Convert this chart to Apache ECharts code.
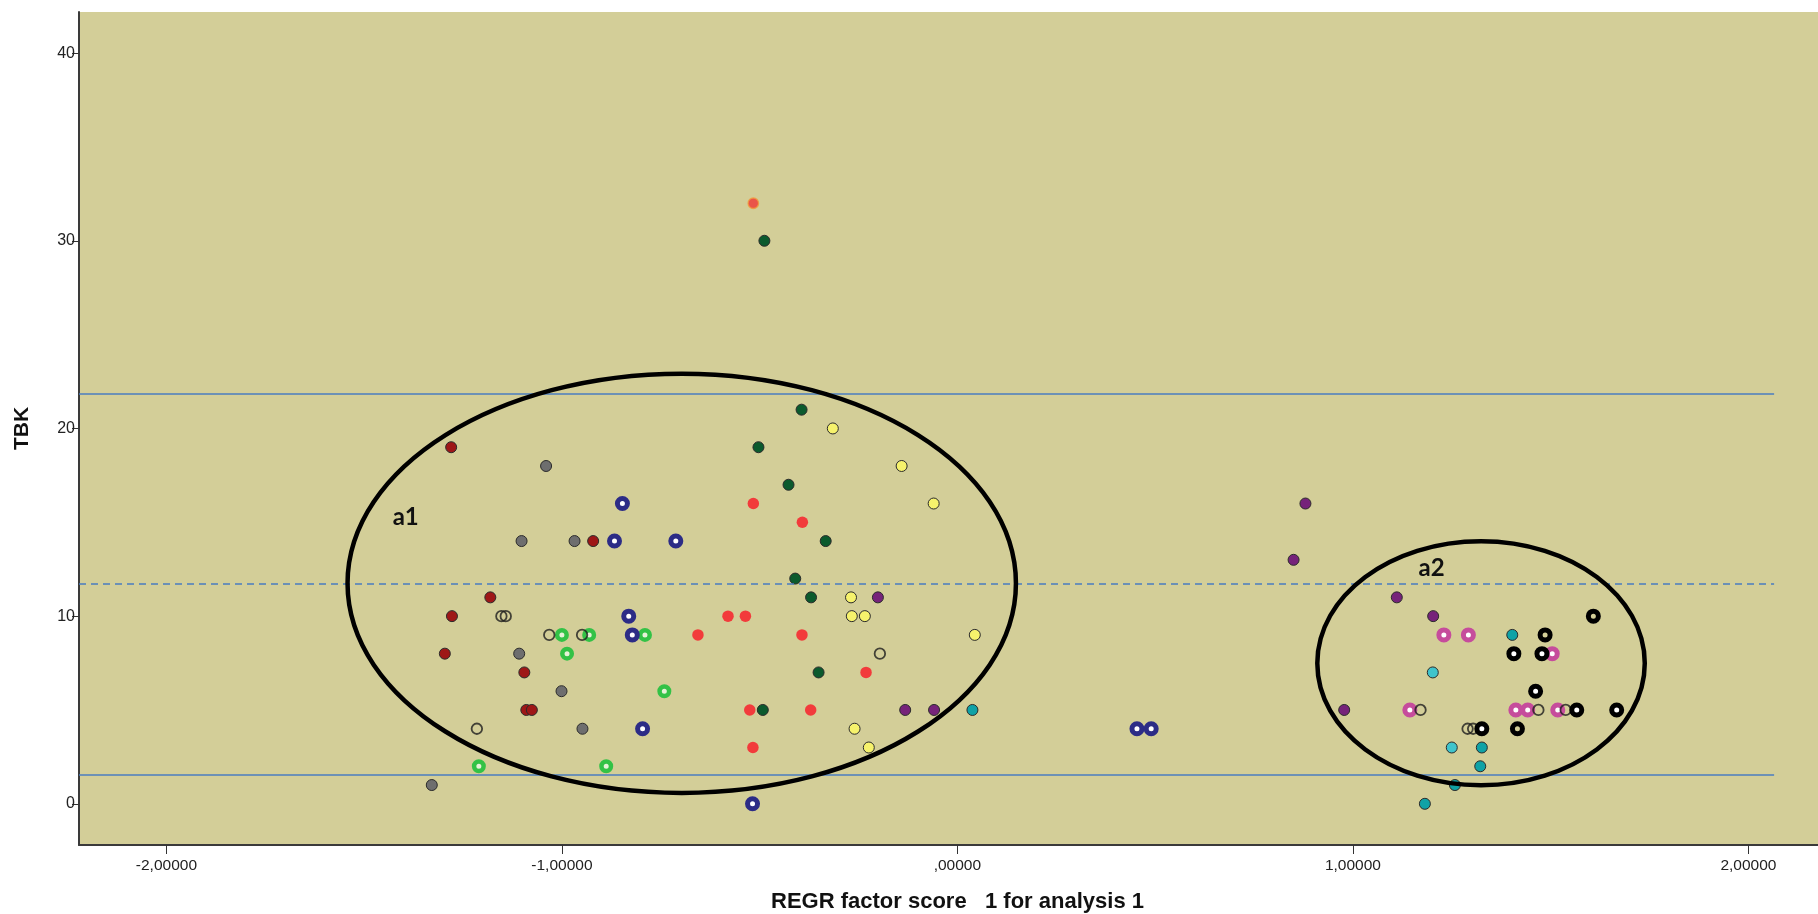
<!DOCTYPE html>
<html>
<head>
<meta charset="utf-8">
<script src="https://cdn.jsdelivr.net/npm/echarts@6/dist/echarts.min.js"></script>
<style>
html,body{margin:0;padding:0;background:#fff;}
#chart{width:1818px;height:914px;}
</style>
</head>
<body>
<div id="chart"></div>
<script>
// ---- axis extents / ticks ----
var X_MIN = -2.221, X_MAX = 2.176;
var Y_MIN = -2.195, Y_MAX = 42.19;
var xTicks = [-2, -1, 0, 1, 2];
var yTicks = [0, 10, 20, 30, 40];
var xTitle = 'REGR factor score   1 for analysis 1';
var yTitle = 'TBK';

// ---- reference lines ----
var refLineValues = [21.83, 1.55];
var refDashValue = 11.75;
var refLineEndX = 2.065;

// ---- ellipses (annotations) ----
var ellipseCx = [-0.697, 1.324];
var ellipseCy = [11.75, 7.49];
var ellipseRx = [0.845, 0.414];
var ellipseRy = [11.17, 6.50];
var ellipseLabel = ['a1', 'a2'];
var ellipseLabelX = [-1.395, 1.199];
var ellipseLabelY = [15.28, 12.56];

// ---- point groups [x, TBK] ----
var darkRed = [[-1.280,19],[-0.921,14],[-1.181,11],[-1.278,10],[-1.296,8],[-1.095,7],[-1.090,5],[-1.076,5]];
var grayPts = [[-1.040,18],[-1.102,14],[-0.968,14],[-1.108,8],[-1.001,6],[-0.948,4],[-1.329,1]];
var greenRing = [[-1.000,9],[-0.931,9],[-0.790,9],[-0.987,8],[-0.741,6],[-1.210,2],[-0.888,2]];
var navyRing = [[-0.847,16],[-0.867,14],[-0.712,14],[-0.831,10],[-0.822,9],[-0.796,4],[-0.518,0],[0.454,4],[0.490,4]];
var redPts = [[-0.516,16],[-0.392,15],[-0.580,10],[-0.536,10],[-0.656,9],[-0.393,9],[-0.231,7],[-0.525,5],[-0.371,5],[-0.517,3]];
var orangeRed = [[-0.516,32]];
var darkGreen = [[-0.488,30],[-0.394,21],[-0.503,19],[-0.427,17],[-0.333,14],[-0.410,12],[-0.370,11],[-0.351,7],[-0.492,5]];
var yellowPts = [[-0.315,20],[-0.141,18],[-0.060,16],[-0.269,11],[-0.267,10],[-0.234,10],[0.044,9],[-0.260,4],[-0.224,3]];
var purplePts = [[-0.201,11],[-0.132,5],[-0.059,5],[0.880,16],[0.850,13],[1.111,11],[1.203,10],[0.978,5]];
var tealPts = [[0.038,5],[1.403,9],[1.326,3],[1.322,2],[1.258,1],[1.182,0]];
var lightCyan = [[1.202,7],[1.250,3]];
var pinkRing = [[1.230,9],[1.292,9],[1.504,8],[1.144,5],[1.412,5],[1.442,5],[1.518,5]];
var hollowPts = [[-1.153,10],[-1.142,10],[-1.032,9],[-0.949,9],[-1.215,4],[-0.196,8],[1.171,5],[1.290,4],[1.304,4],[1.469,5],[1.538,5]];
var blackRingWhite = [[1.407,8],[1.478,8],[1.462,6],[1.566,5],[1.667,5],[1.326,4]];
var blackRingOpen = [[1.608,10],[1.486,9],[1.416,4]];

var FONT = '"Liberation Sans", Arial, sans-serif';

function filled(name, data, color, border, size){
  return {type:'scatter', name:name, data:data, symbol:'circle', symbolSize:size||11,
    itemStyle:{color:color, borderColor:border||'#2b2b2b', borderWidth:border==='none'?0:1, opacity:1},
    emphasis:{disabled:true}, z:3};
}
function ring(name, data, color, inner, size, bw){
  return {type:'scatter', name:name, data:data, symbol:'circle', symbolSize:size||10,
    itemStyle:{color:inner, borderColor:color, borderWidth:bw||5, opacity:1},
    emphasis:{disabled:true}, z:3};
}

var ellipseData = ellipseCx.map(function(c,i){
  return [c, ellipseCy[i], ellipseRx[i], ellipseRy[i], ellipseLabelX[i], ellipseLabelY[i], i];
});

var markData = refLineValues.map(function(v){
  return [{coord:[X_MIN, v]}, {coord:[refLineEndX, v]}];
});
markData.push([{coord:[X_MIN, refDashValue], lineStyle:{type:[7,5]}}, {coord:[refLineEndX, refDashValue]}]);

var chart = echarts.init(document.getElementById('chart'), null, {renderer:'canvas'});
chart.setOption({
  animation:false,
  backgroundColor:'#ffffff',
  grid:{left:79, right:0, top:12, bottom:69, show:true, backgroundColor:'#d3ce98', borderWidth:0,
    containLabel:false, outerBoundsMode:'none'},
  xAxis:{type:'value', min:X_MIN, max:X_MAX,
    name:xTitle, nameLocation:'middle', nameGap:46,
    nameTextStyle:{fontFamily:FONT, fontWeight:'bold', fontSize:22, color:'#111', padding:[0,0,0,18]},
    axisLine:{show:true, onZero:false, lineStyle:{color:'#3a3a3a', width:2}},
    axisTick:{show:true, customValues:xTicks, length:9, lineStyle:{color:'#333', width:1}},
    axisLabel:{customValues:xTicks, margin:13, fontFamily:FONT, fontSize:15.5, color:'#222',
      formatter:function(v){ var a=Math.abs(v); return (v<0?'-':'') + (a>=1? a.toFixed(0):'') + ',00000'; }},
    splitLine:{show:false}},
  yAxis:{type:'value', min:Y_MIN, max:Y_MAX,
    name:yTitle, nameLocation:'middle', nameGap:46, nameRotate:90,
    nameTextStyle:{fontFamily:FONT, fontWeight:'bold', fontSize:21, color:'#111'},
    axisLine:{show:true, onZero:false, lineStyle:{color:'#3a3a3a', width:2}},
    axisTick:{show:true, customValues:yTicks, length:7, lineStyle:{color:'#333', width:1}},
    axisLabel:{customValues:yTicks, margin:4, fontFamily:FONT, fontSize:16, color:'#222'},
    splitLine:{show:false}},
  series:[
    {type:'line', data:[], silent:true,
      markLine:{silent:true, symbol:'none', label:{show:false},
        lineStyle:{color:'#4a7cc0', width:1.6, type:'solid'}, data:markData}},
    filled('darkRed', darkRed, '#9e1717'),
    filled('gray', grayPts, '#6e6e6e'),
    ring('greenRing', greenRing, '#33c246', '#e6f2d8', 9.5, 4.5),
    ring('navyRing', navyRing, '#2c2c86', '#ffffff', 10, 5),
    filled('red', redPts, '#f23b3b', 'none', 11.5),
    {type:'scatter', name:'orangeRed', data:orangeRed, symbol:'circle', symbolSize:10.5,
      itemStyle:{color:'#f03636', borderColor:'#f39a3c', borderWidth:1.3}, emphasis:{disabled:true}, z:3},
    filled('darkGreen', darkGreen, '#0b5a2d'),
    filled('yellow', yellowPts, '#f6f26c'),
    filled('purple', purplePts, '#76237a'),
    filled('teal', tealPts, '#0fa2a6'),
    filled('lightCyan', lightCyan, '#3fc4cc'),
    ring('pinkRing', pinkRing, '#c64c9c', '#ffffff', 10, 5),
    {type:'scatter', name:'hollow', data:hollowPts, symbol:'circle', symbolSize:10.5,
      itemStyle:{color:'rgba(0,0,0,0)', borderColor:'#1e1e1e', borderWidth:1.8}, emphasis:{disabled:true}, z:3},
    ring('blackRingWhite', blackRingWhite, '#000000', '#ffffff', 10, 5),
    ring('blackRingOpen', blackRingOpen, '#000000', 'rgba(0,0,0,0)', 10, 5),
    {type:'custom', name:'ellipses', data:ellipseData, silent:true, clip:false, z:5,
      renderItem:function(params, api){
        var c = api.coord([api.value(0), api.value(1)]);
        var s = api.size([api.value(2), api.value(3)]);
        var lp = api.coord([api.value(4), api.value(5)]);
        return {type:'group', children:[
          {type:'ellipse', shape:{cx:c[0], cy:c[1], rx:s[0], ry:s[1]},
            style:{fill:null, stroke:'#000', lineWidth:4.5}},
          {type:'text', x:lp[0], y:lp[1],
            style:{text:ellipseLabel[api.value(6)], fill:'#111', font:'bold 24px Lato, "Open Sans", sans-serif',
              align:'center', verticalAlign:'middle'}}
        ]};
      }}
  ]
});
</script>
</body>
</html>
